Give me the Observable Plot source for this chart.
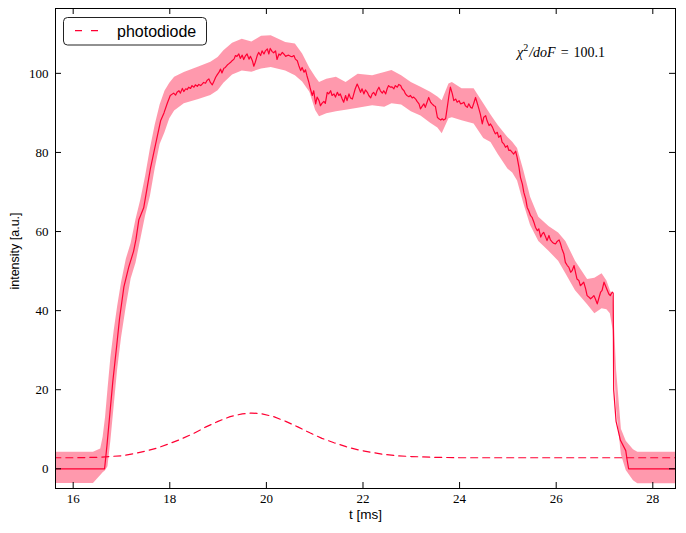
<!DOCTYPE html>
<html><head><meta charset="utf-8">
<script src="https://cdn.jsdelivr.net/npm/d3@7"></script>
<script src="https://cdn.jsdelivr.net/npm/@observablehq/plot@0.6"></script>
<style>body{margin:0;background:#fff}</style>
</head><body><div id="chart"></div>
<script>
// measured intensity (solid line)
const lineT = [15.6,16.65,16.70,16.76,16.82,16.90,16.96,17.05,17.15,17.25,17.30,17.36,17.46,17.53,17.60,17.67,17.74,17.81,17.88,17.95,
18.01,18.08,18.12,18.15,18.19,18.22,18.26,18.29,18.33,18.36,18.39,18.43,18.46,18.50,18.53,18.57,18.60,18.64,18.67,18.70,18.74,18.77,18.81,18.84,18.88,18.91,18.95,18.98,
19.02,19.05,19.08,19.12,19.15,19.19,19.22,19.26,19.29,19.33,19.36,19.39,19.43,19.46,19.50,19.53,19.57,19.60,19.64,19.67,19.71,19.74,19.77,19.81,19.84,19.88,19.91,19.95,19.98,
20.02,20.05,20.08,20.12,20.15,20.19,20.22,20.26,20.29,20.33,20.36,20.40,20.43,20.46,20.50,20.53,20.57,20.60,20.64,20.67,20.71,20.74,20.78,20.81,20.84,20.88,20.91,20.95,20.98,
21.02,21.05,21.09,21.12,21.15,21.19,21.22,21.26,21.29,21.33,21.36,21.40,21.43,21.47,21.50,21.53,21.57,21.60,21.64,21.67,21.71,21.74,21.78,21.81,21.84,21.88,21.91,21.95,21.98,
22.02,22.05,22.09,22.12,22.16,22.19,22.22,22.26,22.29,22.33,22.36,22.40,22.43,22.47,22.50,22.53,22.57,22.60,22.64,22.67,22.71,22.74,22.78,22.81,22.85,22.88,22.91,22.95,22.98,
23.02,23.05,23.09,23.12,23.16,23.19,23.22,23.26,23.29,23.36,23.40,23.43,23.47,23.50,23.54,23.57,23.61,23.64,23.67,23.71,23.74,23.78,23.81,23.85,23.88,23.92,23.95,23.99,
24.02,24.05,24.09,24.12,24.16,24.19,24.23,24.26,24.30,24.33,24.36,24.40,24.43,24.47,24.50,24.54,24.57,24.61,24.64,24.68,24.71,24.74,24.78,24.81,24.85,24.88,24.92,24.95,24.99,
25.02,25.05,25.09,25.12,25.16,25.19,25.23,25.26,25.30,25.33,25.37,25.40,25.43,25.47,25.50,25.54,25.57,25.61,25.64,25.68,25.71,25.74,25.78,25.81,25.85,25.88,25.92,25.95,25.99,
26.02,26.06,26.09,26.12,26.16,26.19,26.23,26.26,26.30,26.33,26.37,26.40,26.43,26.47,26.50,26.54,26.57,26.61,26.64,26.68,26.71,26.75,26.78,26.81,26.85,26.88,26.92,26.95,26.99,
27.02,27.06,27.09,27.12,27.16,27.18,27.19,27.24,27.33,27.44,27.47,27.50,28.5];
const lineV = [0,0,6,14,22,31,38,46,51,55,58,63,66,71,76,80,84,88,90,92.5,
94.4,95.0,94.5,95.2,95.6,95.0,96.2,95.4,96.1,95.9,96.5,96.2,96.9,96.5,97.1,96.7,97.2,96.9,97.3,97.7,97.5,98.2,98.6,97.7,97.1,97.9,99.0,99.6,
100.3,101.1,100.1,101.3,101.5,102.1,102.4,102.8,103.2,103.6,104.5,104.3,104.9,103.8,104.6,103.5,104.5,104.9,103.6,104.3,103.2,101.8,102.8,104.5,105.3,104.5,105.7,104.9,105.7,
106.2,104.9,106.3,105.5,105.2,105.7,103.5,104.9,104.6,105.3,104.9,104.3,104.5,104.6,104.3,104.2,104.5,103.6,103.2,102.0,100.7,101.5,100.3,100.9,99.4,97.7,96.1,94.4,95.6,
92.3,94.0,93.1,91.8,92.4,92.9,92.4,95.2,94.8,95.6,94.4,94.8,94.0,95.2,94.4,94.8,93.5,92.7,94.4,93.1,94.8,93.8,93.5,94.8,96.1,97.3,96.5,95.2,96.1,
94.8,95.8,95.2,94.4,93.8,94.8,95.2,94.4,95.6,96.5,95.6,95.0,95.6,94.8,96.1,96.9,96.5,96.6,96.1,96.9,96.5,97.2,96.9,96.1,95.6,94.8,94.4,94.1,94.4,
93.8,94.0,93.5,92.9,92.3,91.0,91.6,92.3,91.4,93.9,92.7,92.3,91.8,91.6,88.9,88.5,88.2,88.5,88.2,88.5,91.0,94.4,96.5,94.8,93.1,93.5,92.7,93.1,
92.3,92.4,92.7,91.8,91.4,92.3,91.4,91.2,92.7,93.9,92.7,91.0,89.7,87.2,88.9,89.3,88.0,86.8,87.2,86.4,85.5,84.7,85.1,83.8,84.3,82.6,82.1,81.3,81.7,
80.5,80.6,80.0,79.6,80.3,78.8,76.2,73.7,72.0,69.9,68.2,66.1,65.3,64.0,63.6,62.3,61.1,60.2,60.7,58.6,59.4,59.8,58.7,57.7,59.0,57.9,57.3,57.0,56.9,
57.5,57.9,56.9,55.6,54.3,52.2,51.4,51.0,49.7,50.1,51.4,49.7,48.0,47.6,46.3,46.8,47.2,45.5,43.8,43.4,43.0,43.4,43.8,43.0,41.7,43.0,44.7,45.1,47.2,
46.3,45.1,44.2,43.8,44.7,44.4,20,12,7.2,4.6,2.1,0,0];

// uncertainty band
const bandT = [15.6,16.42,16.57,16.62,16.67,16.72,16.78,16.85,16.92,17.0,17.1,17.2,17.3,17.4,17.5,17.6,17.7,17.8,17.9,18.0,18.1,18.3,18.6,18.85,19.0,19.12,19.3,19.5,19.7,19.9,20.1,20.4,20.6,20.75,20.9,21.02,21.1,21.25,21.45,21.65,21.9,22.2,22.45,22.6,22.8,23.0,23.2,23.4,23.55,23.64,23.78,23.85,24.05,24.3,24.5,24.65,24.8,25.0,25.1,25.2,25.33,25.47,25.64,25.85,26.05,26.2,26.4,26.65,26.8,26.95,27.05,27.12,27.18,27.25,27.35,27.45,27.6,27.69,28.5];
const bandUpper = [4.2,4.2,5.0,8,13,20,28,35,41,47,53,57,63,68,74,81,87,92,95.5,97.5,99.0,100.2,101.6,102.8,104.0,105.7,107.6,108.6,107.9,109.4,109.5,107.8,107.4,104.9,101.3,99.0,97.7,98.5,99.0,97.7,99.8,99.4,100.2,100.7,99.4,97.7,96.5,95.2,94.0,93.1,97.3,97.7,96.1,96.1,92.3,89.5,86.8,83.8,82.6,81.0,75.4,68.7,63.6,61.3,59.6,57.5,52.5,47.9,48.2,49.3,47.5,45.1,43.5,25,10,7,4.8,4.2,4.2];
const bandLower = [-3.7,-3.7,-1.7,-1.0,-0.5,0.5,7,16,25,33,41,48,52,58,64,69,76,82,85,88.5,90.5,92.3,93.4,94.4,95.6,97.5,99.6,100.6,100.3,101.1,101.5,100.6,99.4,97.8,95.2,90.6,89.0,89.8,90.3,90.7,91.2,91.8,91.4,92.3,92.0,90.3,89.2,87.4,86.2,84.7,88.5,88.8,88.0,87.2,83.5,82.5,79.5,75.8,74.8,72.8,67.0,61.5,57.5,55.0,52.5,49.3,45.0,41.5,39.2,40.5,40.2,39.2,35.0,15,3.5,-0.4,-3.0,-3.8,-3.8];

// photodiode (dashed)
const diodeT = [15.6,16.0,16.5,17.0,17.25,17.5,17.75,18.0,18.25,18.5,18.75,19.0,19.25,19.5,19.7,19.9,20.15,20.4,20.65,20.9,21.15,21.4,21.65,21.9,22.15,22.4,22.7,23.0,23.5,24.0,28.5];
const diodeV = [2.8,2.8,2.9,3.3,3.8,4.5,5.3,6.4,7.6,9.0,10.6,12.0,13.2,13.9,14.1,13.9,13.2,12.0,10.6,9.1,7.7,6.6,5.6,4.8,4.2,3.7,3.3,3.1,2.9,2.8,2.8];

const xTicks = [16,18,20,22,24,26,28];
const yTicks = [0,20,40,60,80,100];
const xLabel = "t [ms]";
const yLabel = "intensity [a.u.]";
const legendLabel = "photodiode";
const chiValue = "100.1";

const red = "#ff0033";
const lineData = lineT.map((t,i)=>({t, v: lineV[i]}));
const bandData = bandT.map((t,i)=>({t, lo: bandLower[i], hi: bandUpper[i]}));
const diodeData = diodeT.map((t,i)=>({t, v: diodeV[i]}));

const W = 686, H = 533, mL = 55, mR = 11, mT = 8, mB = 45;
const fw = W - mL - mR, fh = H - mT - mB;
const serif = "'Liberation Serif', serif";
const sans = "'Liberation Sans', Arial, sans-serif";

const plot = Plot.plot({
  width: W, height: H,
  marginLeft: mL, marginRight: mR, marginTop: mT, marginBottom: mB,
  style: {background: "#fff", fontFamily: serif, fontSize: "13px", color: "black"},
  x: {domain: [15.634, 28.47]},
  y: {domain: [-4.98, 116.4]},
  marks: [
    Plot.areaY(bandData, {x: "t", y1: "lo", y2: "hi", fill: red, fillOpacity: 0.4, clip: true}),
    Plot.line(diodeData, {x: "t", y: "v", stroke: red, strokeWidth: 1.2, strokeDasharray: "7,5", clip: true}),
    Plot.line(lineData, {x: "t", y: "v", stroke: red, strokeWidth: 1.2, clip: true}),
    Plot.tickX(xTicks, {x: d => d, insetTop: fh - 6, stroke: "black"}),
    Plot.tickX(xTicks, {x: d => d, insetBottom: fh - 6, stroke: "black"}),
    Plot.tickY(yTicks, {y: d => d, insetRight: fw - 6, stroke: "black"}),
    Plot.tickY(yTicks, {y: d => d, insetLeft: fw - 6, stroke: "black"}),
    Plot.axisX({ticks: xTicks, tickSize: 0, tickPadding: 5, label: null, fontFamily: serif, fontSize: 13}),
    Plot.axisY({ticks: yTicks, tickSize: 0, tickPadding: 7, label: null, fontFamily: serif, fontSize: 13}),
    Plot.text([xLabel], {text: d => d, frameAnchor: "bottom", dy: 21, lineAnchor: "top", textAnchor: "middle", fontFamily: sans, fontSize: 13.5, fill: "black"}),
    Plot.frame({stroke: "black", strokeWidth: 1})
  ]
});
document.getElementById("chart").appendChild(plot);

const svg = d3.select(plot);
const xs = plot.scale("x"), ys = plot.scale("y");

// y-axis label (rotated)
svg.append("text")
  .attr("transform", `translate(${mL - 40},${mT + fh / 2 + 3}) rotate(-90)`)
  .attr("text-anchor", "middle").attr("dy", "0.35em")
  .attr("font-family", sans).attr("font-size", 12.5).attr("fill", "black")
  .text(yLabel);

// chi^2 annotation
const chi = svg.append("text")
  .attr("x", xs.apply(25.2)).attr("y", ys.apply(104.0)).attr("text-anchor", "start")
  .attr("font-family", serif).attr("font-size", 14).attr("fill", "black");
chi.append("tspan").attr("font-style", "italic").text("χ");
chi.append("tspan").attr("font-size", 10).attr("dy", -6).text("2");
chi.append("tspan").attr("dy", 6).attr("dx", 1).attr("font-style", "italic").text("/doF");
chi.append("tspan").attr("dx", 5).text("=");
chi.append("tspan").attr("dx", 5).text(chiValue);

// legend
const lg = svg.append("g").attr("text-anchor", "start");
lg.append("rect").attr("x", 63.5).attr("y", 17.5).attr("width", 143).attr("height", 27.5)
  .attr("rx", 4).attr("fill", "white").attr("stroke", "#222").attr("stroke-width", 1);
lg.append("line").attr("x1", 75).attr("x2", 100).attr("y1", 30.7).attr("y2", 30.7)
  .attr("stroke", red).attr("stroke-width", 1.2).attr("stroke-dasharray", "7,9");
lg.append("text").attr("x", 117).attr("y", 36.5).attr("font-family", sans).attr("font-size", 16)
  .attr("fill", "black").text(legendLabel);
</script></body></html>
